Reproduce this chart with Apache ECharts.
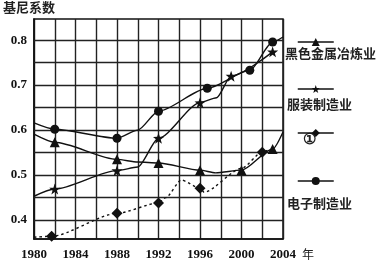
<!DOCTYPE html>
<html>
<head>
<meta charset="utf-8">
<script src="https://cdn.jsdelivr.net/npm/echarts@6/dist/echarts.min.js"></script>
<style>html,body{margin:0;padding:0;background:#fff}#c{width:388px;height:262px}</style>
</head>
<body>
<div id="c"></div>
<script>
// ---- data ----
const seriesNames = ['黑色金属冶炼业', '服装制造业', '①', '电子制造业'];

const ferrousYears = [1980, 1982, 1988, 1990, 1992, 1996, 1997.5, 2000, 2003, 2004];
const ferrousGini  = [0.591, 0.573, 0.535, 0.529, 0.527, 0.511, 0.505, 0.511, 0.558, 0.596];
const ferrousMark  = [0, 1, 1, 0, 1, 1, 0, 1, 1, 0];

const apparelYears = [1980, 1982, 1988, 1990, 1992, 1996, 1997.6, 1999, 2003];
const apparelGini  = [0.453, 0.469, 0.510, 0.518, 0.582, 0.661, 0.672, 0.720, 0.774];
const apparelMark  = [0, 1, 1, 0, 1, 1, 0, 1, 1];

const unknownYears = [1980, 1981.7, 1988, 1992, 1992.7, 1994.2, 1996, 1996.4, 2000, 2002, 2002.6];
const unknownGini  = [0.362, 0.364, 0.415, 0.438, 0.450, 0.489, 0.471, 0.462, 0.515, 0.551, 0.556];
const unknownMark  = [0, 1, 1, 1, 0, 0, 1, 0, 0, 1, 0];

const electronicsYears = [1980, 1982, 1988, 1990, 1992, 1996.7, 2000.8, 2003, 2004];
const electronicsGini  = [0.616, 0.602, 0.582, 0.600, 0.642, 0.693, 0.733, 0.796, 0.807];
const electronicsMark  = [0, 1, 1, 0, 1, 1, 1, 1, 0];

const yTickValues  = [0.4, 0.45, 0.5, 0.55, 0.6, 0.65, 0.7, 0.75, 0.8];
const yLabelValues = [0.4, 0.5, 0.6, 0.7, 0.8];
const xLabelYears  = [1980, 1984, 1988, 1992, 1996, 2000, 2004];

// ---- chart ----
function build(xs, ys, marks) {
  return xs.map((x, i) => marks[i] ? [x, ys[i]] : { value: [x, ys[i]], symbol: 'none' });
}
const shapes = ['triangle', 'path://M0,-10L2.35,-3.24L9.51,-3.09L3.8,1.24L5.88,8.09L0,4L-5.88,8.09L-3.8,1.24L-9.51,-3.09L-2.35,-3.24Z', 'diamond', 'circle'];
const sizes = [10, 11, 11, 9];
const datasets = [
  build(ferrousYears, ferrousGini, ferrousMark),
  build(apparelYears, apparelGini, apparelMark),
  build(unknownYears, unknownGini, unknownMark),
  build(electronicsYears, electronicsGini, electronicsMark)
];

const serif = '"Liberation Serif", "DejaVu Serif", serif';
const cjk = '"Noto Sans CJK SC", sans-serif';

const series = seriesNames.map((n, i) => ({
  name: n,
  type: 'line',
  data: datasets[i],
  symbol: shapes[i],
  symbolSize: sizes[i],
  smooth: 0.25,
  smoothMonotone: 'x',
  lineStyle: { color: '#111', width: 1.4, type: i === 2 ? [2.5, 3] : 'solid' },
  itemStyle: { color: '#111' },
  emphasis: { disabled: true },
  z: 5
}));

// horizontal grid lines placed through the y scale
series.push({
  name: 'grid',
  type: 'line',
  data: [],
  silent: true,
  z: 1,
  markLine: {
    silent: true,
    symbol: 'none',
    label: { show: false },
    animation: false,
    lineStyle: { color: '#222', width: 1.4, type: 'solid' },
    emphasis: { disabled: true },
    data: yTickValues.map(v => ({ yAxis: v }))
  }
});

const legendTop = [32, 79, 123, 171];
const legends = seriesNames.map((n, i) => ({
  data: [n],
  left: 292,
  top: legendTop[i],
  itemWidth: 36,
  itemHeight: 10,
  itemGap: 0,
  formatter: () => '',
  textStyle: { fontSize: 1 },
  lineStyle: { type: 'solid', width: 1.5, color: '#111' },
  selectedMode: false
}));

const labelText = [
  { text: '黑色金属冶炼业', x: 285, y: 55 },
  { text: '服装制造业', x: 287, y: 106 },
  { text: '①', x: 303, y: 141 },
  { text: '电子制造业', x: 287, y: 205 }
];

const chart = echarts.init(document.getElementById('c'), null, { renderer: 'canvas' });
chart.setOption({
  animation: false,
  backgroundColor: '#fff',
  grid: { left: 34, right: 105, top: 19, bottom: 23, show: true, borderColor: '#111', borderWidth: 1.5, backgroundColor: 'transparent' },
  xAxis: {
    type: 'value', min: 1980, max: 2004, interval: 2,
    name: '年', nameLocation: 'end', nameGap: 13,
    nameTextStyle: { fontFamily: cjk, fontSize: 12, color: '#222', verticalAlign: 'top', padding: [9, 0, 0, 0] },
    axisLine: { lineStyle: { color: '#111', width: 1.5 } },
    axisTick: { show: false },
    axisLabel: {
      color: '#111', fontFamily: serif, fontSize: 13, fontWeight: 'bold', margin: 9,
      formatter: v => xLabelYears.indexOf(v) >= 0 ? String(v) : ''
    },
    splitLine: { show: true, lineStyle: { color: '#222', width: 1.4 } }
  },
  yAxis: {
    type: 'value', min: 0.358, max: 0.847,
    name: '基尼系数', nameLocation: 'end', nameGap: 5,
    nameTextStyle: { fontFamily: cjk, fontSize: 13, fontWeight: 'bold', color: '#222', align: 'left', padding: [0, 0, 0, -31] },
    axisLine: { lineStyle: { color: '#111', width: 1.5 } },
    axisTick: { show: false },
    axisLabel: { color: '#111', fontFamily: serif, fontSize: 13, fontWeight: 'bold', margin: 7, customValues: yLabelValues, formatter: v => v.toFixed(1) },
    splitLine: { show: false }
  },
  legend: legends,
  graphic: labelText.map(t => ({
    type: 'text', left: t.x, top: t.y - 8,
    style: { text: t.text, fontFamily: t.text === '①' ? serif : cjk, fontSize: t.text === '①' ? 15 : 13, fontWeight: 'bold', fill: '#222' }
  })),
  series: series
});
</script>
</body>
</html>
